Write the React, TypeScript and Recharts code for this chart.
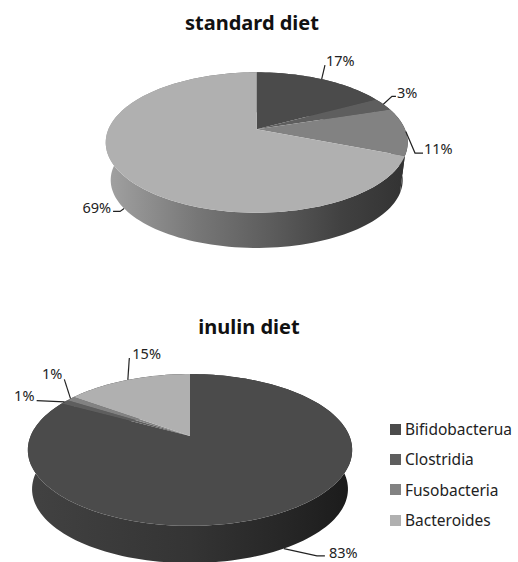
import { Legend, Pie, PieChart } from "recharts";

const CATEGORIES = ["Bifidobacterua", "Clostridia", "Fusobacteria", "Bacteroides"];
const STANDARD_VALUES = [17, 3, 11, 69];
const INULIN_VALUES = [83, 1, 1, 15];
const SLICE_COLORS = ["#4b4b4b", "#5e5e5e", "#828282", "#b0b0b0"];

const FONT = "'Noto Sans', sans-serif";
const INK = "#222222";

// Perspective of the tilted discs: tilt squashes the height, lean makes the near side bigger.
type Disc = { tilt: number; lean: number; depth: number; shrink: number };
const STANDARD_DISC: Disc = { tilt: 0.4565, lean: 0.188, depth: 38, shrink: 0.967 };
const INULIN_DISC: Disc = { tilt: 0.46, lean: 0.184, depth: 39.5, shrink: 0.974 };

// Leader lines: elbow and end as offsets from the rim, then where the text sits from the end.
type Leader = { elbow: [number, number]; end: [number, number]; text: [number, number] };
const STANDARD_LEADERS: Leader[] = [
  { elbow: [3.3, -14], end: [3.3, -14], text: [1, -5] },
  { elbow: [8.6, -8], end: [12.6, -8], text: [1, -4] },
  { elbow: [9.2, 21.6], end: [17.2, 21.6], text: [1, -5] },
  { elbow: [-4, 3], end: [-11, 3], text: [-2, -4] },
];
const INULIN_LEADERS: Leader[] = [
  { elbow: [33, 7.4], end: [41, 7.4], text: [4, -4.3] },
  { elbow: [-27.9, -1.3], end: [-27.9, -1.3], text: [-2.2, -5.7] },
  { elbow: [-6.2, -19.3], end: [-6.2, -19.3], text: [-2, -6.3] },
  { elbow: [1.5, -21.8], end: [1.5, -21.8], text: [3, -5] },
];

const STANDARD_SIDE = [
  [0, "#a2a2a2"],
  [0.3, "#777777"],
  [0.55, "#5c5c5c"],
  [0.78, "#414141"],
  [1, "#323232"],
] as const;
const INULIN_SIDE = [
  [0, "#424242"],
  [0.5, "#343434"],
  [0.8, "#262626"],
  [1, "#1b1b1b"],
] as const;

const chartData = (values: number[]) => values.map((value, i) => ({ name: CATEGORIES[i], value }));

const toRad = (deg: number) => (deg * Math.PI) / 180;

// Projects an angle on the disc rim to the screen; scale and drop give the lower rim.
function rimPoint(p: any, disc: Disc, angle: number, scale = 1, drop = 0) {
  const u = Math.cos(toRad(angle));
  const v = Math.sin(toRad(angle));
  const w = 1 + disc.lean * v;
  return {
    x: p.cx + (p.outerRadius * scale * u) / w,
    y: p.cy + drop - (p.outerRadius * disc.tilt * scale * v) / w,
  };
}

function rimPoints(p: any, disc: Disc, scale = 1, drop = 0) {
  const steps = Math.max(2, Math.ceil(Math.abs(p.endAngle - p.startAngle) / 2));
  const pts = [];
  for (let i = 0; i <= steps; i++) {
    const a = p.startAngle + ((p.endAngle - p.startAngle) * i) / steps;
    pts.push(rimPoint(p, disc, a, scale, drop));
  }
  return pts;
}

const toPath = (pts: { x: number; y: number }[]) =>
  pts.map((pt, i) => `${i ? "L" : "M"}${pt.x.toFixed(2)},${pt.y.toFixed(2)}`).join(" ") + " Z";

const topFace = (disc: Disc) => (p: any) => (
  <path d={toPath([{ x: p.cx, y: p.cy }, ...rimPoints(p, disc)])} fill={p.fill} />
);

const sideWall = (disc: Disc, fill: string) => (p: any) => {
  const upper = rimPoints(p, disc);
  const lower = rimPoints(p, disc, disc.shrink, disc.depth).reverse();
  return <path d={toPath([...upper, ...lower])} fill={fill} />;
};

const leaderLabel = (disc: Disc, leaders: Leader[]) => (p: any) => {
  const lead = leaders[p.index];
  // slices facing the viewer hang their leader off the lower rim
  const front = Math.sin(toRad(p.midAngle)) < -0.2;
  const from = front
    ? rimPoint(p, disc, p.midAngle, disc.shrink, disc.depth)
    : rimPoint(p, disc, p.midAngle);
  const ex = from.x + lead.end[0];
  const ey = from.y + lead.end[1];
  const tx = ex + lead.text[0];
  return (
    <g>
      <polyline
        points={`${from.x},${from.y} ${from.x + lead.elbow[0]},${from.y + lead.elbow[1]} ${ex},${ey}`}
        fill="none"
        stroke={INK}
        strokeWidth={1.2}
      />
      <text
        x={tx}
        y={ey + lead.text[1]}
        textAnchor={lead.text[0] < 0 ? "end" : "start"}
        dominantBaseline="central"
        fontFamily={FONT}
        fontSize={14.5}
        fill={INK}
      >
        {`${p.value}%`}
      </text>
    </g>
  );
};

// The legend gets an entry per slice of every pie, so keep one per category, in order.
function LegendList({ payload }: any) {
  const items = CATEGORIES.map((name) => (payload ?? []).find((item: any) => item.value === name)).filter(Boolean);
  return (
    <div style={{ fontFamily: FONT, fontSize: 15.5, color: INK }}>
      {items.map((item: any) => (
        <div key={item.value} style={{ display: "flex", alignItems: "center", height: 30.3 }}>
          <span style={{ width: 11, height: 11, background: item.color, marginRight: 4 }} />
          {item.value}
        </div>
      ))}
    </div>
  );
}

function SideGradient({ id, x1, x2, stops }: any) {
  return (
    <linearGradient id={id} gradientUnits="userSpaceOnUse" x1={x1} x2={x2} y1={0} y2={0}>
      {stops.map(([offset, color]: any) => (
        <stop key={offset} offset={offset} stopColor={color} />
      ))}
    </linearGradient>
  );
}

function Title({ x, y, children }: any) {
  return (
    <text x={x} y={y} textAnchor="middle" dominantBaseline="central" fontFamily={FONT} fontWeight={700} fontSize={20} fill="#111111">
      {children}
    </text>
  );
}

export default function App() {
  const shared = { dataKey: "value", nameKey: "name", startAngle: 90, endAngle: -270, stroke: "none", isAnimationActive: false };
  const standard = { ...shared, data: chartData(STANDARD_VALUES).map((d, i) => ({ ...d, fill: SLICE_COLORS[i] })), cx: 256.7, cy: 129.3, outerRadius: 148.3 };
  const inulin = { ...shared, data: chartData(INULIN_VALUES).map((d, i) => ({ ...d, fill: SLICE_COLORS[i] })), cx: 190, cy: 436, outerRadius: 159.4 };
  return (
    <div style={{ position: "absolute", left: 0, top: 0, width: 518, height: 562, background: "#ffffff", overflow: "hidden" }}>
      <PieChart width={518} height={562} margin={{ top: 0, right: 0, bottom: 0, left: 0 }}>
        <defs>
          <SideGradient id="standardSide" x1={106} x2={407} stops={STANDARD_SIDE} />
          <SideGradient id="inulinSide" x1={28} x2={352} stops={INULIN_SIDE} />
        </defs>
        <Title x={252} y={22.5}>standard diet</Title>
        <Title x={249} y={326.5}>inulin diet</Title>
        <Pie {...standard} legendType="none" label={false} labelLine={false} shape={sideWall(STANDARD_DISC, "url(#standardSide)")} />
        <Pie {...standard} legendType="none" label={leaderLabel(STANDARD_DISC, STANDARD_LEADERS)} labelLine={false} shape={topFace(STANDARD_DISC)} />
        <Pie {...inulin} legendType="none" label={false} labelLine={false} shape={sideWall(INULIN_DISC, "url(#inulinSide)")} />
        <Pie {...inulin} label={leaderLabel(INULIN_DISC, INULIN_LEADERS)} labelLine={false} shape={topFace(INULIN_DISC)} />
        <Legend layout="vertical" content={<LegendList />} wrapperStyle={{ left: 390, top: 414, width: 128, bottom: "auto" }} />
      </PieChart>
    </div>
  );
}
